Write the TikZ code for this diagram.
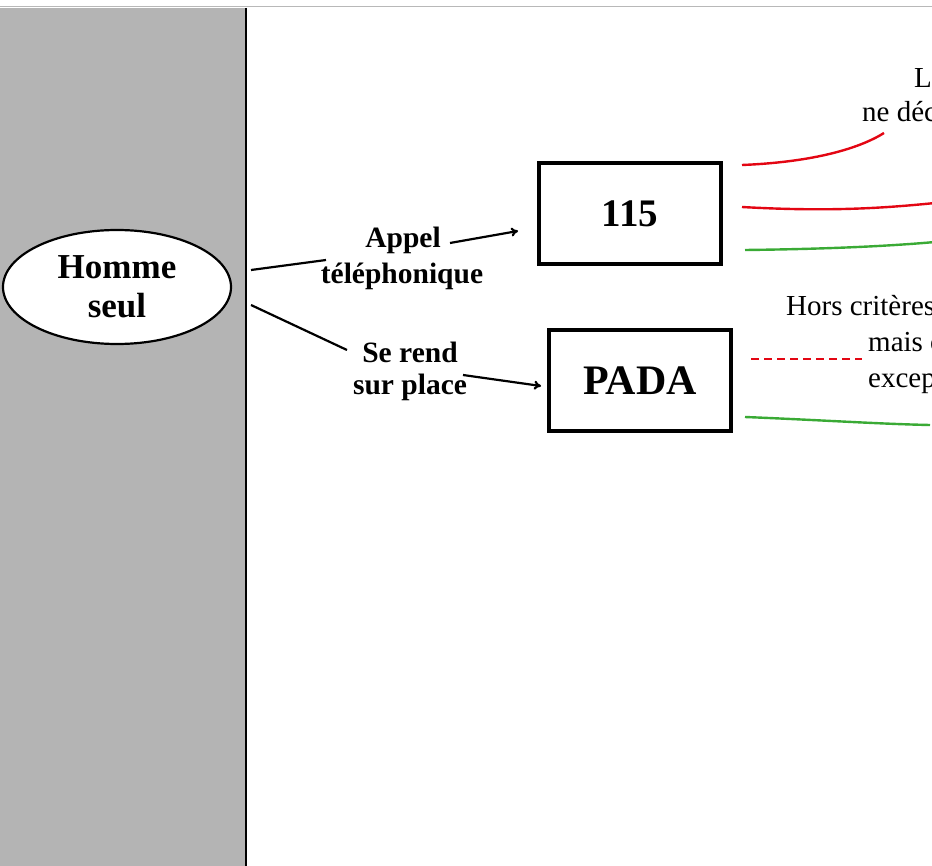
\documentclass[tikz,border=0pt]{standalone}
\usepackage{fontspec}
\setmainfont{Liberation Serif}
\usetikzlibrary{shapes.geometric,arrows.meta}
\definecolor{panelgray}{HTML}{B4B4B4}
\definecolor{rulegray}{HTML}{B8B8B8}
\definecolor{nored}{HTML}{E30613}
\definecolor{okgreen}{HTML}{3AAA35}
\tikzset{
  person/.style={draw, ellipse, fill=white, line width=2.2pt, minimum width=228pt, minimum height=114pt,
    align=center, font=\fontsize{35}{39}\selectfont\bfseries, inner sep=0pt},
  service/.style={draw, line width=3.5pt, minimum width=182pt, minimum height=101pt, inner sep=0pt},
  way/.style={font=\fontsize{29.5}{34}\selectfont\bfseries, inner sep=0pt},
  note/.style={font=\fontsize{29}{34}\selectfont, inner sep=0pt, anchor=base west},
  link/.style={line width=2.2pt},
  arrowlink/.style={line width=2.2pt, -{To[length=7pt,width=9pt]}},
  refuse/.style={nored, line width=2.4pt},
  accept/.style={okgreen, line width=2.4pt},
}
\begin{document}
\begin{tikzpicture}[x=1pt,y=-1pt]
\useasboundingbox (0,0) rectangle (932,866);
\clip (0,0) rectangle (932,866);

% left panel and frame rules
\fill[panelgray] (0,8) rectangle (245,866);
\draw[rulegray, line width=1pt] (0,7) -- (932,7);
\draw[line width=2.2pt] (246,8) -- (246,866);

% person
\node[person] (homme) at (117,287) {Homme\\seul};

% services
\node[service, font=\fontsize{39}{42}\selectfont\bfseries] (s115) at (630,213.5) {115};
\node[service, font=\fontsize{42}{46}\selectfont\bfseries] (pada) at (640,380.5) {PADA};

% ways of reaching a service
\node[way] (appelA) at (403,240) {Appel};
\node[way] (appelB) at (402,276) {téléphonique};
\node[way] (rendA) at (410,352) {Se rend};
\node[way] (rendB) at (410,387) {sur place};

\coordinate (a0) at (251,270);
\coordinate (a1) at (326,260);
\coordinate (a2) at (450,243);
\coordinate (a3) at (518,231);
\coordinate (b0) at (251,305);
\coordinate (b1) at (347,350);
\coordinate (b2) at (463,375);
\coordinate (b3) at (541,386);
\draw[link] (a0) -- (a1);
\draw[arrowlink] (a2) -- (a3);
\draw[link] (b0) -- (b1);
\draw[arrowlink] (b2) -- (b3);

% outcomes
\node[note] (t1a) at (914,88) {L};
\node[note] (t1b) at (862,122) {ne déc};
\node[note] (t2a) at (786,316) {Hors critères};
\node[note] (t2b) at (868,352) {mais c};
\node[note] (t2c) at (868,388) {excep};

\coordinate (r1) at (742,165);
\coordinate (r1e) at (884,133);
\coordinate (r2) at (742,207);
\coordinate (r2e) at (935,203);
\coordinate (g1) at (745,250);
\coordinate (g1e) at (935,242);
\coordinate (d1) at (751,359);
\coordinate (d1e) at (862,359);
\coordinate (g2) at (745,417);
\coordinate (g2e) at (930,425);

\draw[refuse] (r1) .. controls (815,162) and (860,148) .. (r1e);
\draw[refuse] (r2) .. controls (830,212) and (885,208) .. (r2e);
\draw[accept] (g1) .. controls (830,249) and (890,246) .. (g1e);
\draw[refuse, dash pattern=on 8pt off 5pt] (d1) -- (d1e);
\draw[accept] (g2) .. controls (820,420) and (880,424) .. (g2e);
\end{tikzpicture}
\end{document}
